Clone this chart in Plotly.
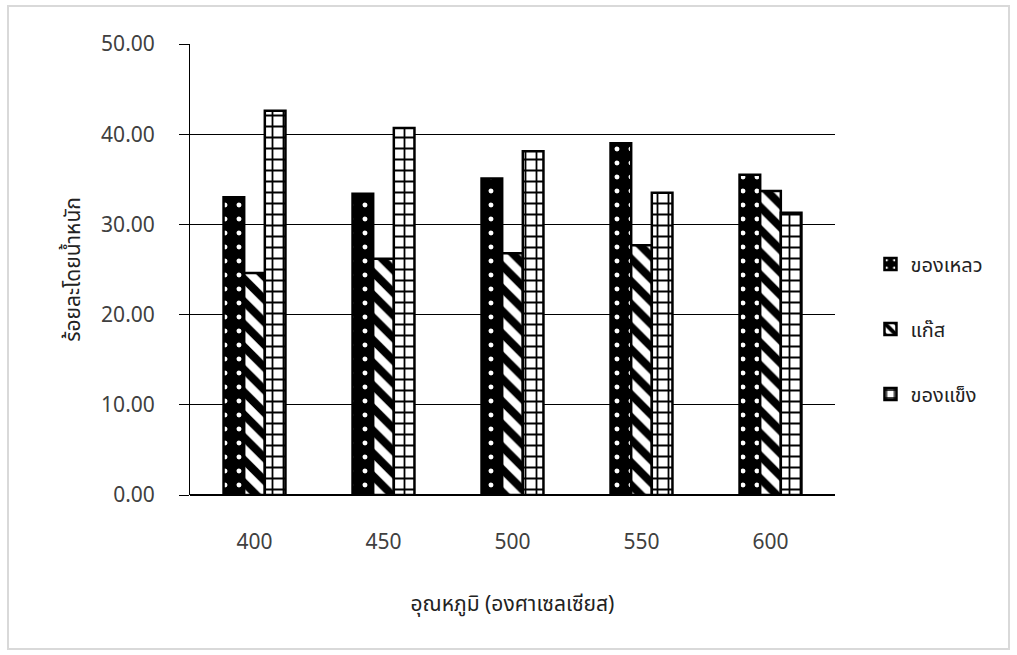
import plotly.graph_objects as go

# Temperatures (°C) and product yields (% by weight)
temps = ["400", "450", "500", "550", "600"]
liquid = [33.0, 33.4, 35.1, 39.0, 35.5]
gas = [24.6, 26.2, 26.8, 27.7, 33.7]
solid = [42.6, 40.7, 38.1, 33.5, 31.3]

names = ["ของเหลว", "แก๊ส", "ของแข็ง"]
y_ticks = [0, 10, 20, 30, 40, 50]

FONT = "Noto Sans, Noto Sans Thai, Tahoma, sans-serif"
TXT = "#404040"

fig = go.Figure()

fig.add_bar(
    x=temps, y=liquid, name=names[0], legendgroup="a",
    marker=dict(color="black", line=dict(color="black", width=2.5),
                pattern=dict(shape=".", fgcolor="white", bgcolor="black",
                             fgopacity=1, size=14, solidity=0.1,
                             fillmode="overlay")),
)
fig.add_bar(
    x=temps, y=gas, name=names[1], legendgroup="b",
    marker=dict(color="white", line=dict(color="black", width=2.5),
                pattern=dict(shape="\\", fgcolor="black", bgcolor="white",
                             fgopacity=1, size=16, solidity=0.5,
                             fillmode="overlay")),
)
fig.add_bar(
    x=temps, y=solid, name=names[2], legendgroup="c",
    marker=dict(color="white", line=dict(color="black", width=2.5),
                pattern=dict(shape="+", fgcolor="black", bgcolor="white",
                             fgopacity=1, size=11, solidity=0.3,
                             fillmode="overlay")),
)

fig.update_layout(
    width=1017, height=655,
    margin=dict(l=190, r=182, t=44, b=160),
    paper_bgcolor="white", plot_bgcolor="white",
    barmode="group", bargap=0.52, bargroupgap=0,
    font=dict(family=FONT, size=21, color=TXT),
    showlegend=True,
    legend=dict(x=1.055, y=0.368, xanchor="left", yanchor="middle",
                tracegroupgap=36, font=dict(size=20, color="#222222"),
                itemwidth=30),
    xaxis=dict(type="category", showline=False, ticks="", showgrid=False,
               ticklabelstandoff=32,
               tickfont=dict(size=21, color=TXT),
               title=dict(text="อุณหภูมิ (องศาเซลเซียส)", standoff=42,
                          font=dict(size=21, color="#222222"))),
    yaxis=dict(range=[0, 50], tickvals=y_ticks, tickformat=".2f",
               showline=True, linecolor="black", linewidth=1,
               showgrid=True, gridcolor="black", gridwidth=1,
               zeroline=True, zerolinecolor="black", zerolinewidth=1.5,
               ticks="outside", ticklen=10, tickcolor="black",
               ticklabelstandoff=20,
               tickfont=dict(size=21, color=TXT),
               title=dict(text="ร้อยละโดยน้ำหนัก", standoff=14,
                          font=dict(size=21, color="#222222"))),
    shapes=[dict(type="rect", xref="paper", yref="paper",
                 x0=(8 - 190) / 645, x1=(1009 - 190) / 645,
                 y0=(495 - 649) / 451, y1=(495 - 6) / 451,
                 line=dict(color="#d9d9d9", width=2), layer="below")],
)

fig.write_html("out.html")
